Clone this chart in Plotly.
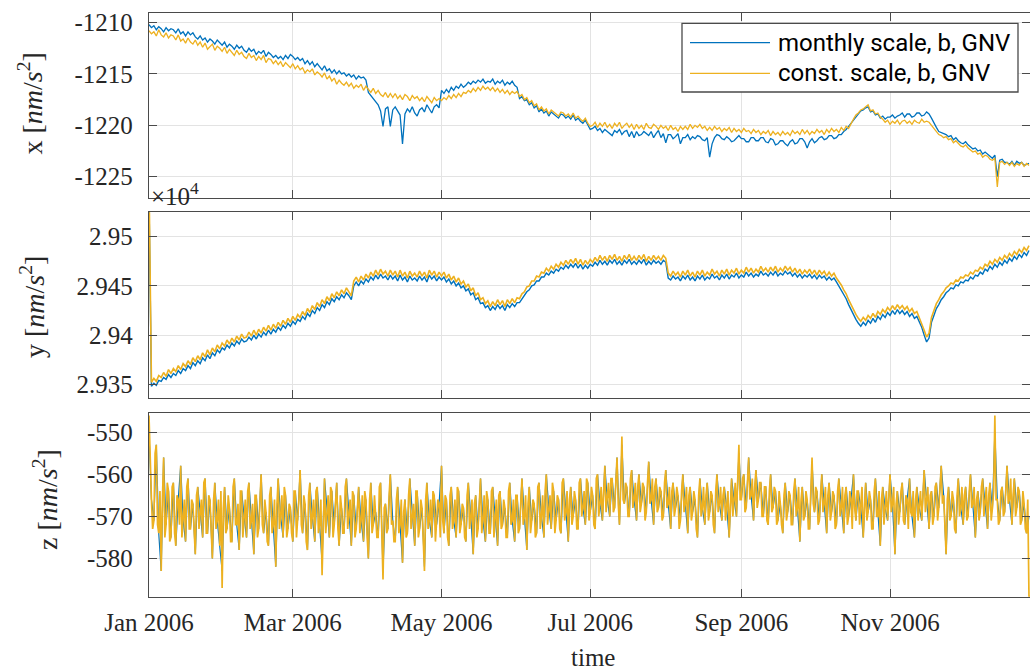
import plotly.graph_objects as go
from plotly.subplots import make_subplots
import pandas as pd

# ---------------- data ----------------
# x component [nm/s^2], one value per day from 2006-01-01
x_monthly = [float(v) for v in """
-1210.2 -1210.5 -1210.3 -1210.7 -1210.4 -1210.6 -1210.9 -1210.5 -1210.8 -1210.6
-1210.7 -1211.0 -1210.6 -1211.1 -1210.9 -1211.3 -1210.9 -1211.2 -1211.0 -1211.4
-1211.6 -1211.3 -1211.7 -1211.5 -1211.9 -1211.6 -1211.8 -1212.1 -1211.7 -1212.0
-1212.2 -1211.9 -1212.4 -1212.1 -1212.3 -1212.6 -1212.2 -1212.5 -1212.3 -1212.7
-1212.9 -1212.5 -1212.8 -1212.6 -1213.1 -1212.8 -1213.0 -1212.7 -1213.3 -1212.9
-1213.1 -1213.4 -1213.2 -1213.5 -1213.3 -1213.6 -1213.2 -1213.5 -1213.1 -1213.3
-1213.6 -1213.4 -1213.7 -1213.5 -1214.0 -1213.7 -1214.1 -1213.8 -1214.3 -1214.0
-1214.3 -1214.6 -1214.2 -1214.7 -1214.5 -1214.9 -1214.6 -1215.0 -1214.7 -1215.0
-1214.9 -1215.2 -1215.0 -1215.3 -1215.1 -1215.5 -1215.2 -1215.4 -1215.3 -1215.6
-1216.8 -1217.1 -1217.4 -1217.6 -1218.0 -1218.6 -1220.1 -1218.4 -1218.2 -1220.1
-1218.5 -1218.2 -1218.6 -1219.0 -1221.8 -1218.9 -1218.4 -1218.7 -1218.2 -1218.8
-1219.1 -1218.5 -1218.3 -1218.7 -1218.0 -1218.4 -1218.8 -1218.2 -1218.0 -1218.3
-1216.6 -1216.9 -1216.5 -1216.8 -1216.3 -1216.6 -1216.2 -1216.4 -1216.0 -1216.3
-1216.1 -1215.8 -1216.0 -1215.7 -1215.9 -1215.6 -1215.8 -1215.5 -1215.9 -1215.7
-1215.8 -1215.5 -1216.0 -1215.7 -1215.9 -1215.6 -1216.1 -1215.8 -1216.0 -1215.7
-1216.1 -1216.3 -1217.4 -1217.2 -1217.6 -1217.5 -1218.0 -1217.8 -1218.3 -1218.1
-1218.7 -1218.4 -1218.8 -1218.6 -1219.1 -1218.7 -1218.9 -1219.1 -1219.3 -1218.9
-1219.0 -1219.3 -1219.1 -1219.4 -1219.0 -1219.5 -1219.3 -1219.6 -1219.8 -1219.5
-1220.0 -1220.4 -1220.3 -1220.1 -1220.5 -1220.3 -1220.7 -1220.4 -1220.6 -1220.8
-1221.0 -1220.5 -1220.7 -1220.4 -1220.9 -1220.6 -1220.5 -1221.1 -1220.6 -1221.2
-1220.6 -1221.0 -1220.9 -1220.6 -1220.8 -1221.0 -1220.6 -1221.2 -1220.8 -1220.5
-1221.2 -1220.8 -1221.7 -1220.9 -1220.9 -1221.3 -1221.1 -1220.8 -1221.8 -1221.2
-1221.2 -1220.9 -1221.4 -1221.1 -1221.3 -1221.0 -1221.1 -1221.4 -1221.5 -1221.2
-1223.1 -1221.8 -1221.2 -1220.9 -1221.0 -1221.3 -1221.4 -1221.1 -1221.3 -1221.6
-1221.5 -1221.2 -1221.0 -1221.3 -1221.3 -1221.6 -1221.6 -1221.2 -1221.2 -1221.5
-1221.5 -1221.2 -1221.2 -1221.6 -1221.7 -1221.3 -1221.4 -1221.9 -1221.8 -1221.5
-1221.5 -1221.8 -1222.0 -1221.6 -1221.4 -1221.8 -1221.7 -1221.3 -1221.3 -1221.6
-1222.2 -1221.6 -1221.3 -1221.7 -1221.5 -1221.2 -1221.1 -1221.4 -1221.3 -1221.0
-1221.0 -1221.3 -1221.2 -1220.9 -1220.9 -1220.6 -1220.4 -1220.1 -1219.8 -1219.5
-1219.1 -1218.9 -1218.6 -1218.5 -1218.3 -1218.2 -1218.7 -1218.6 -1219.0 -1218.9
-1219.3 -1219.1 -1219.4 -1219.2 -1219.2 -1219.0 -1219.3 -1219.1 -1219.0 -1218.8
-1219.2 -1218.9 -1218.9 -1219.2 -1219.1 -1218.8 -1218.8 -1219.1 -1219.0 -1218.7
-1218.9 -1219.3 -1219.8 -1220.2 -1220.6 -1220.7 -1220.8 -1220.9 -1221.1 -1221.0
-1221.4 -1221.2 -1221.5 -1221.7 -1221.8 -1221.6 -1221.9 -1222.1 -1222.3 -1222.2
-1222.5 -1222.4 -1222.8 -1222.6 -1222.8 -1223.0 -1223.2 -1222.9 -1225.0 -1223.4
-1223.3 -1223.6 -1223.6 -1223.8 -1223.5 -1223.9 -1223.5 -1223.7 -1223.6 -1223.9
-1223.8 -1223.7
""".split()]

x_const = [float(v) for v in """
-1210.8 -1211.1 -1210.9 -1211.3 -1210.7 -1211.2 -1211.4 -1211.0 -1211.5 -1211.2
-1211.3 -1211.7 -1211.2 -1211.8 -1211.6 -1212.0 -1211.5 -1211.9 -1212.1 -1211.7
-1212.2 -1211.9 -1212.4 -1212.0 -1212.6 -1212.3 -1212.1 -1212.7 -1212.3 -1212.5
-1212.8 -1212.4 -1213.0 -1212.6 -1212.9 -1213.2 -1212.7 -1213.1 -1212.9 -1213.3
-1213.5 -1213.0 -1213.4 -1213.2 -1213.7 -1213.3 -1213.6 -1213.2 -1213.9 -1213.5
-1213.6 -1214.0 -1213.7 -1214.1 -1213.8 -1214.3 -1213.9 -1214.2 -1214.4 -1214.0
-1214.5 -1214.2 -1214.6 -1214.4 -1214.9 -1214.6 -1214.8 -1214.5 -1215.1 -1214.8
-1215.0 -1215.3 -1214.9 -1215.5 -1215.2 -1215.7 -1215.4 -1216.0 -1215.6 -1215.9
-1216.1 -1215.8 -1216.2 -1215.9 -1216.4 -1216.1 -1216.3 -1216.0 -1216.6 -1216.2
-1216.5 -1216.8 -1216.4 -1216.9 -1216.6 -1217.0 -1217.2 -1216.8 -1217.3 -1216.9
-1217.3 -1216.9 -1217.4 -1217.1 -1217.5 -1217.0 -1217.2 -1217.6 -1217.1 -1217.4
-1217.2 -1217.6 -1217.3 -1217.7 -1217.2 -1217.5 -1217.8 -1217.3 -1217.6 -1217.4
-1217.6 -1217.3 -1217.5 -1217.1 -1217.4 -1217.0 -1217.3 -1216.9 -1217.2 -1216.8
-1216.9 -1216.6 -1216.8 -1216.4 -1216.7 -1216.3 -1216.6 -1216.2 -1216.5 -1216.3
-1216.6 -1216.3 -1216.7 -1216.4 -1216.8 -1216.5 -1216.9 -1216.6 -1217.0 -1216.7
-1216.9 -1216.7 -1217.2 -1217.0 -1217.5 -1217.3 -1217.8 -1217.6 -1218.1 -1217.9
-1218.5 -1218.2 -1218.6 -1218.4 -1218.9 -1218.5 -1218.7 -1218.9 -1219.1 -1218.7
-1218.8 -1219.1 -1218.9 -1219.2 -1218.8 -1219.3 -1219.1 -1219.4 -1219.6 -1219.3
-1219.8 -1220.1 -1220.0 -1219.7 -1220.2 -1219.8 -1220.1 -1219.7 -1220.2 -1219.9
-1220.3 -1219.8 -1220.1 -1219.7 -1220.3 -1220.0 -1219.8 -1220.2 -1219.9 -1220.4
-1219.9 -1220.3 -1220.0 -1220.4 -1219.8 -1220.2 -1220.3 -1219.9 -1220.1 -1220.4
-1220.0 -1220.3 -1220.1 -1220.5 -1220.0 -1220.4 -1220.2 -1220.6 -1220.1 -1220.4
-1220.1 -1220.4 -1219.9 -1220.3 -1220.0 -1220.2 -1219.9 -1220.3 -1220.1 -1220.5
-1220.2 -1220.5 -1220.1 -1220.4 -1220.2 -1220.6 -1220.3 -1220.5 -1220.2 -1220.7
-1220.3 -1220.6 -1220.4 -1220.7 -1220.3 -1220.6 -1220.5 -1220.8 -1220.4 -1220.7
-1220.5 -1220.9 -1220.6 -1220.8 -1220.5 -1221.0 -1220.6 -1220.9 -1220.7 -1221.0
-1220.6 -1220.9 -1220.7 -1221.0 -1220.5 -1220.8 -1220.6 -1220.9 -1220.4 -1220.8
-1220.5 -1220.9 -1220.6 -1220.8 -1220.4 -1220.7 -1220.5 -1220.9 -1220.4 -1220.7
-1220.3 -1220.6 -1220.4 -1220.7 -1220.2 -1220.5 -1220.1 -1220.3 -1219.8 -1219.4
-1219.0 -1218.8 -1218.5 -1218.4 -1218.2 -1218.0 -1218.6 -1218.5 -1218.9 -1218.8
-1219.2 -1219.4 -1219.7 -1219.5 -1219.9 -1219.6 -1219.8 -1219.5 -1219.9 -1219.6
-1219.5 -1219.8 -1219.6 -1219.9 -1219.5 -1219.7 -1219.8 -1219.4 -1219.7 -1219.6
-1219.7 -1220.0 -1220.3 -1220.6 -1220.9 -1221.0 -1221.2 -1221.1 -1221.4 -1221.3
-1221.7 -1221.5 -1221.8 -1222.0 -1222.1 -1221.9 -1222.2 -1222.4 -1222.6 -1222.5
-1222.8 -1222.7 -1223.1 -1222.9 -1223.0 -1223.3 -1223.4 -1223.2 -1226.0 -1223.6
-1223.5 -1223.8 -1223.6 -1223.9 -1223.6 -1224.0 -1223.7 -1223.9 -1223.6 -1224.0
-1223.7 -1223.9
""".split()]

# y component [nm/s^2], one value per day
y_monthly = [int(v) for v in """
29540 29348 29351 29349 29354 29353 29357 29355 29360 29357
29361 29359 29364 29361 29366 29364 29369 29366 29372 29369
29374 29371 29377 29374 29380 29376 29382 29379 29385 29382
29387 29385 29390 29387 29392 29389 29394 29391 29396 29393
29394 29398 29395 29400 29396 29401 29398 29403 29400 29405
29401 29406 29403 29408 29405 29410 29407 29412 29409 29414
29411 29416 29414 29419 29416 29422 29419 29425 29422 29428
29425 29431 29428 29434 29431 29437 29434 29439 29436 29441
29438 29443 29440 29436 29450 29454 29450 29455 29452 29457
29454 29459 29456 29461 29457 29462 29458 29460 29456 29461
29457 29460 29455 29461 29456 29459 29454 29460 29456 29458
29455 29460 29456 29459 29454 29461 29457 29460 29455 29459
29456 29459 29454 29457 29452 29455 29450 29453 29448 29450
29445 29447 29441 29443 29436 29438 29432 29433 29428 29430
29425 29429 29426 29431 29427 29430 29425 29431 29428 29432
29429 29433 29433 29437 29440 29444 29446 29450 29451 29455
29455 29459 29459 29463 29461 29465 29463 29467 29465 29469
29467 29471 29468 29472 29469 29473 29468 29472 29467 29471
29468 29472 29470 29474 29471 29476 29472 29475 29471 29476
29473 29477 29472 29475 29471 29476 29473 29477 29472 29475
29472 29476 29473 29477 29471 29475 29472 29476 29473 29475
29472 29476 29474 29458 29456 29460 29457 29459 29455 29460
29457 29461 29456 29459 29455 29460 29457 29461 29456 29459
29457 29462 29458 29460 29456 29461 29458 29462 29457 29461
29459 29463 29458 29461 29459 29464 29460 29463 29459 29462
29460 29465 29461 29463 29460 29464 29461 29465 29460 29463
29461 29465 29462 29464 29460 29463 29459 29462 29458 29461
29459 29462 29458 29461 29457 29461 29458 29460 29456 29459
29456 29458 29454 29450 29446 29441 29437 29431 29426 29420
29416 29412 29409 29413 29410 29415 29412 29417 29413 29419
29416 29421 29418 29423 29420 29425 29421 29426 29422 29425
29421 29424 29419 29422 29417 29419 29413 29408 29400 29393
29397 29413 29420 29427 29431 29436 29439 29443 29445 29448
29447 29451 29450 29454 29453 29456 29455 29459 29457 29461
29460 29464 29462 29467 29465 29470 29467 29472 29469 29474
29471 29476 29473 29478 29475 29480 29477 29482 29479 29484
29481 29486
""".split()]

y_const = [int(v) for v in """
29560 29352 29356 29353 29359 29357 29362 29358 29365 29361
29366 29363 29369 29365 29371 29368 29374 29370 29377 29373
29379 29375 29382 29378 29385 29380 29387 29383 29390 29386
29392 29389 29395 29391 29397 29393 29399 29395 29401 29397
29398 29403 29399 29405 29400 29406 29402 29408 29404 29410
29405 29411 29407 29413 29409 29415 29411 29417 29413 29419
29415 29421 29418 29424 29420 29427 29423 29430 29426 29433
29429 29436 29432 29439 29435 29442 29438 29444 29440 29446
29442 29448 29444 29440 29455 29459 29454 29460 29456 29462
29458 29464 29460 29466 29461 29467 29462 29465 29460 29466
29461 29465 29459 29466 29460 29464 29458 29465 29460 29463
29459 29465 29460 29464 29458 29466 29461 29465 29459 29464
29460 29464 29458 29462 29456 29460 29454 29458 29452 29455
29449 29452 29445 29448 29440 29443 29436 29438 29432 29435
29429 29434 29430 29436 29431 29435 29429 29436 29432 29437
29433 29438 29437 29442 29444 29449 29450 29455 29455 29460
29459 29464 29463 29468 29465 29470 29467 29472 29469 29474
29471 29476 29472 29477 29473 29478 29472 29477 29471 29476
29472 29477 29474 29479 29475 29481 29476 29480 29475 29481
29477 29482 29476 29480 29475 29481 29477 29482 29476 29480
29476 29481 29477 29482 29475 29480 29476 29481 29477 29480
29476 29481 29478 29463 29460 29465 29461 29464 29459 29465
29461 29466 29460 29464 29459 29465 29461 29466 29460 29464
29461 29467 29462 29465 29460 29466 29462 29467 29461 29466
29463 29468 29462 29466 29463 29469 29464 29468 29463 29467
29464 29470 29465 29468 29464 29469 29465 29470 29464 29468
29465 29470 29466 29469 29464 29468 29463 29467 29462 29466
29463 29467 29462 29466 29461 29466 29462 29465 29460 29464
29460 29463 29458 29455 29451 29446 29442 29436 29431 29425
29421 29417 29414 29418 29415 29420 29417 29422 29418 29424
29421 29426 29423 29428 29425 29430 29426 29431 29427 29430
29426 29429 29424 29427 29422 29424 29418 29413 29405 29398
29402 29418 29425 29432 29436 29441 29444 29448 29450 29453
29452 29456 29455 29459 29458 29461 29460 29464 29462 29466
29465 29469 29467 29472 29470 29475 29472 29477 29474 29479
29476 29481 29478 29483 29480 29485 29482 29487 29484 29489
29486 29491
""".split()]

# z component [nm/s^2]: monthly scale one value per day, const scale two per day
z_monthly = [int(v) for v in """
-550 -566 -571 -553 -574 -583 -556 -572 -564 -575
-562 -577 -566 -558 -571 -576 -561 -573 -567 -579
-563 -570 -575 -561 -574 -566 -580 -562 -571 -577
-583 -563 -573 -568 -576 -561 -572 -578 -564 -570
-575 -562 -571 -579 -565 -573 -560 -574 -569 -577
-563 -572 -582 -561 -570 -575 -565 -573 -568 -576
-564 -571 -559 -574 -567 -578 -562 -570 -576 -563
-572 -581 -561 -569 -575 -564 -572 -562 -577 -568
-574 -561 -570 -577 -565 -573 -563 -571 -576 -566
-580 -562 -572 -569 -575 -562 -583 -567 -573 -560
-571 -576 -563 -572 -581 -566 -574 -561 -570 -577
-564 -573 -568 -582 -562 -571 -575 -565 -572 -567
-558 -574 -566 -577 -563 -571 -575 -564 -572 -568
-576 -562 -570 -579 -565 -573 -561 -571 -576 -566
-574 -563 -570 -577 -564 -572 -568 -575 -562 -571
-576 -565 -573 -561 -570 -578 -563 -571 -567 -574
-562 -570 -575 -560 -568 -573 -564 -571 -566 -574
-561 -569 -576 -563 -570 -566 -573 -561 -568 -572
-562 -569 -565 -573 -560 -567 -571 -558 -566 -570
-561 -568 -556 -572 -553 -567 -563 -570 -559 -566
-571 -560 -567 -563 -569 -557 -566 -572 -561 -568
-564 -570 -559 -567 -573 -562 -568 -565 -571 -560
-567 -574 -563 -569 -566 -575 -561 -568 -572 -562
-569 -565 -574 -560 -567 -571 -563 -568 -575 -561
-566 -570 -555 -566 -560 -568 -556 -565 -571 -559
-566 -562 -570 -563 -572 -560 -568 -564 -571 -567
-574 -562 -569 -565 -572 -561 -568 -576 -563 -570
-566 -573 -557 -569 -564 -571 -560 -567 -574 -562
-569 -565 -572 -561 -568 -574 -563 -570 -566 -560
-571 -564 -568 -575 -562 -569 -566 -573 -561 -570
-577 -563 -568 -571 -560 -567 -579 -564 -569 -562
-572 -566 -561 -570 -575 -563 -568 -571 -559 -566
-573 -564 -570 -562 -568 -558 -565 -579 -563 -570
-566 -574 -561 -568 -572 -563 -570 -560 -567 -575
-564 -569 -561 -567 -573 -562 -568 -550 -566 -571
-563 -569 -558 -566 -572 -561 -568 -564 -571 -567
-574 -570
""".split()]

z_const = [int(v) for v in """
-546 -560 -566 -573 -571 -555 -553 -572 -574 -564 -583 -566 -556 -575 -572 -562 -564 -576 -575 -563
-562 -574 -577 -565 -566 -572 -558 -575 -571 -566 -576 -563 -561 -573 -573 -566 -567 -575 -579 -565
-563 -573 -570 -566 -575 -562 -561 -574 -574 -565 -566 -576 -580 -566 -562 -573 -571 -566 -577 -564
-587 -568 -563 -574 -573 -565 -568 -576 -576 -563 -561 -572 -572 -567 -578 -564 -564 -575 -570 -566
-575 -564 -562 -573 -571 -567 -579 -565 -565 -575 -573 -566 -560 -572 -574 -566 -569 -576 -577 -565
-563 -574 -572 -566 -582 -567 -561 -573 -570 -565 -575 -563 -565 -575 -573 -567 -568 -574 -576 -564
-564 -575 -571 -566 -559 -572 -574 -565 -567 -576 -578 -565 -562 -573 -570 -566 -576 -564 -563 -574
-572 -566 -584 -570 -561 -574 -569 -565 -575 -563 -564 -575 -572 -566 -562 -573 -577 -565 -568 -574
-574 -563 -561 -573 -570 -566 -577 -564 -565 -575 -573 -566 -563 -574 -571 -565 -576 -564 -566 -575
-580 -566 -562 -574 -572 -565 -569 -575 -575 -563 -562 -573 -585 -568 -567 -574 -573 -565 -560 -572
-571 -576 -576 -566 -563 -574 -572 -566 -581 -569 -566 -575 -574 -565 -561 -573 -570 -567 -577 -564
-564 -575 -573 -566 -568 -576 -583 -566 -562 -573 -571 -566 -575 -564 -565 -576 -572 -566 -567 -575
-558 -571 -574 -565 -566 -575 -577 -565 -563 -573 -571 -566 -575 -563 -564 -574 -572 -567 -568 -575
-576 -565 -562 -573 -570 -566 -579 -567 -565 -575 -573 -566 -561 -574 -571 -565 -576 -564 -566 -574
-574 -564 -563 -575 -570 -566 -577 -565 -564 -573 -572 -566 -568 -575 -575 -564 -562 -572 -571 -566
-576 -565 -565 -574 -573 -566 -561 -572 -570 -565 -578 -567 -563 -574 -571 -566 -567 -575 -574 -563
-562 -573 -570 -565 -575 -564 -560 -572 -568 -565 -573 -562 -564 -574 -571 -565 -566 -573 -574 -562
-561 -571 -569 -564 -576 -566 -563 -572 -570 -564 -566 -573 -573 -562 -561 -570 -568 -564 -572 -561
-562 -571 -569 -563 -565 -572 -573 -561 -560 -570 -567 -563 -571 -562 -558 -569 -566 -562 -570 -561
-561 -569 -568 -562 -556 -567 -572 -563 -551 -566 -567 -562 -563 -570 -570 -561 -559 -568 -566 -562
-571 -563 -560 -569 -567 -562 -563 -571 -569 -562 -557 -567 -566 -561 -572 -563 -561 -569 -568 -563
-564 -571 -570 -562 -559 -568 -567 -563 -573 -564 -562 -570 -568 -563 -565 -573 -571 -564 -560 -569
-567 -563 -574 -565 -563 -571 -569 -564 -566 -573 -575 -565 -561 -570 -568 -563 -572 -565 -562 -571
-569 -564 -565 -572 -574 -564 -560 -569 -567 -563 -571 -565 -563 -571 -568 -564 -575 -566 -561 -570
-566 -562 -570 -563 -553 -566 -566 -561 -560 -569 -568 -562 -556 -566 -565 -561 -571 -563 -559 -568
-566 -562 -562 -570 -570 -563 -563 -571 -572 -564 -560 -569 -568 -563 -564 -572 -571 -564 -567 -572
-574 -565 -562 -571 -569 -564 -565 -572 -572 -564 -561 -570 -568 -563 -576 -566 -563 -571 -570 -564
-566 -573 -573 -564 -556 -567 -569 -563 -564 -572 -571 -565 -560 -569 -567 -563 -574 -565 -562 -571
-569 -564 -565 -573 -572 -564 -561 -570 -568 -563 -574 -565 -563 -572 -570 -564 -566 -573 -560 -568
-571 -564 -564 -572 -568 -563 -575 -566 -562 -571 -569 -564 -566 -573 -573 -564 -561 -570 -570 -564
-577 -566 -563 -572 -568 -564 -571 -565 -560 -569 -567 -563 -579 -567 -564 -572 -569 -564 -562 -571
-572 -565 -566 -573 -561 -569 -570 -564 -575 -566 -563 -571 -568 -564 -571 -566 -559 -569 -566 -563
-573 -565 -564 -572 -570 -563 -562 -571 -568 -564 -558 -567 -565 -572 -579 -566 -563 -571 -570 -564
-566 -573 -574 -565 -561 -570 -568 -563 -572 -565 -563 -571 -570 -564 -560 -568 -567 -563 -575 -566
-564 -571 -569 -563 -561 -570 -567 -563 -573 -565 -562 -571 -568 -564 -546 -566 -566 -572 -571 -564
-563 -570 -569 -563 -558 -567 -566 -561 -572 -565 -561 -570 -568 -563 -564 -572 -571 -564 -567 -573
-574 -566 -589 -589
""".split()]

tick_dates = ["2006-01-01", "2006-03-01", "2006-05-01", "2006-07-01", "2006-09-01", "2006-11-01"]
tick_date_labels = ["Jan 2006", "Mar 2006", "May 2006", "Jul 2006", "Sep 2006", "Nov 2006"]
x_ticks = [-1225, -1220, -1215, -1210]
x_tick_labels = ["-1225", "-1220", "-1215", "-1210"]
y_ticks = [29350, 29400, 29450, 29500]
y_tick_labels = ["2.935", "2.94", "2.945", "2.95"]
z_ticks = [-580, -570, -560, -550]
z_tick_labels = ["-580", "-570", "-560", "-550"]
series_names = ["monthly scale, b, GNV", "const. scale, b, GNV"]

daily = pd.date_range("2006-01-01", periods=len(x_const), freq="D")
half_daily = pd.date_range("2006-01-01", periods=len(z_const), freq="12h")

BLUE = "#0072BD"
ORANGE = "#EDB120"
AX = "#4a4a4a"
TXT = "#262626"
SERIF = "Liberation Serif"

# ---------------- figure ----------------
W, H = 1030, 670
ML, MR, MT, MB = 149, 0, 13, 73
PW, PH = W - ML - MR, H - MT - MB


def px(xp):
    return (xp - ML) / PW


def py(yp):
    return (H - MB - yp) / PH


fig = make_subplots(rows=3, cols=1, shared_xaxes=True, vertical_spacing=0.02)

panels = [
    (daily, x_monthly, daily, x_const, 1.3, 1.3),
    (daily, y_monthly, daily, y_const, 1.4, 1.6),
    (daily, z_monthly, half_daily, z_const, 1.2, 1.7),
]
for i, (tb, vb, to, vo, wb, wo) in enumerate(panels, start=1):
    fig.add_trace(go.Scatter(x=tb, y=vb, mode="lines", name=series_names[0],
                             line=dict(color=BLUE, width=wb)), row=i, col=1)
    fig.add_trace(go.Scatter(x=to, y=vo, mode="lines", name=series_names[1],
                             line=dict(color=ORANGE, width=wo)), row=i, col=1)

common = dict(showline=True, linecolor=AX, linewidth=1.3, mirror="ticks",
              ticks="inside", ticklen=8, tickwidth=1.3, tickcolor=AX,
              showgrid=True, gridcolor="#e3e3e3", gridwidth=1, zeroline=False,
              tickfont=dict(family=SERIF, size=25, color=TXT))

xrange = ["2006-01-01", "2006-12-28 10:00"]
for i in (1, 2, 3):
    fig.update_xaxes(row=i, col=1, range=xrange, tickvals=tick_dates, ticktext=tick_date_labels,
                     showticklabels=(i == 3), ticklabelstandoff=3, **common)

fig.update_yaxes(row=1, col=1, range=[-1227.1, -1209.1], tickvals=x_ticks, ticktext=x_tick_labels,
                 ticklabelstandoff=10, **common)
fig.update_yaxes(row=2, col=1, range=[29336.4, 29524.8], tickvals=y_ticks, ticktext=y_tick_labels,
                 ticklabelstandoff=10, **common)
fig.update_yaxes(row=3, col=1, range=[-589.1, -545.5], tickvals=z_ticks, ticktext=z_tick_labels,
                 ticklabelstandoff=10, **common)

fig.update_layout(
    yaxis=dict(domain=[py(198.3), py(13.3)]),
    yaxis2=dict(domain=[py(397.7), py(212.3)]),
    yaxis3=dict(domain=[py(596.7), py(413.3)]),
)

ann = []
lab_font = dict(family=SERIF, size=28, color=TXT)
for text, xc, yc in [("x [<i>nm</i>/<i>s</i><sup>2</sup>]", 31, 103.5),
                     ("y [<i>nm</i>/<i>s</i><sup>2</sup>]", 32, 307),
                     ("z [<i>nm</i>/<i>s</i><sup>2</sup>]", 45, 500)]:
    ann.append(dict(text=text, x=px(xc), y=py(yc), xref="paper", yref="paper",
                    textangle=-90, showarrow=False, xanchor="center", yanchor="middle",
                    font=lab_font))
ann.append(dict(text="×10<sup>4</sup>", x=px(149), y=py(212), xref="paper", yref="paper",
                showarrow=False, xanchor="left", yanchor="bottom",
                font=dict(family=SERIF, size=25, color=TXT)))
ann.append(dict(text="time", x=px(593), y=py(657), xref="paper", yref="paper",
                showarrow=False, xanchor="center", yanchor="middle",
                font=dict(family=SERIF, size=25, color=TXT)))

# legend (drawn manually to match the long MATLAB line samples)
shapes = [dict(type="rect", xref="paper", yref="paper", x0=px(682), x1=px(1018),
               y0=py(92), y1=py(23.3), fillcolor="white", line=dict(color=AX, width=1.3),
               layer="above")]
for name, col, yy in [(series_names[0], BLUE, 42.7), (series_names[1], ORANGE, 73.3)]:
    shapes.append(dict(type="line", xref="paper", yref="paper", x0=px(690), x1=px(770),
                       y0=py(yy), y1=py(yy), line=dict(color=col, width=1.2), layer="above"))
    ann.append(dict(text=name, x=px(776), y=py(yy), xref="paper", yref="paper",
                    showarrow=False, xanchor="left", yanchor="middle",
                    font=dict(family="Roboto", size=24, color="#000000")))

fig.update_layout(
    width=W, height=H, margin=dict(l=ML, r=MR, t=MT, b=MB),
    plot_bgcolor="white", paper_bgcolor="white", showlegend=False,
    annotations=ann, shapes=shapes,
)

fig.write_html("out.html")
